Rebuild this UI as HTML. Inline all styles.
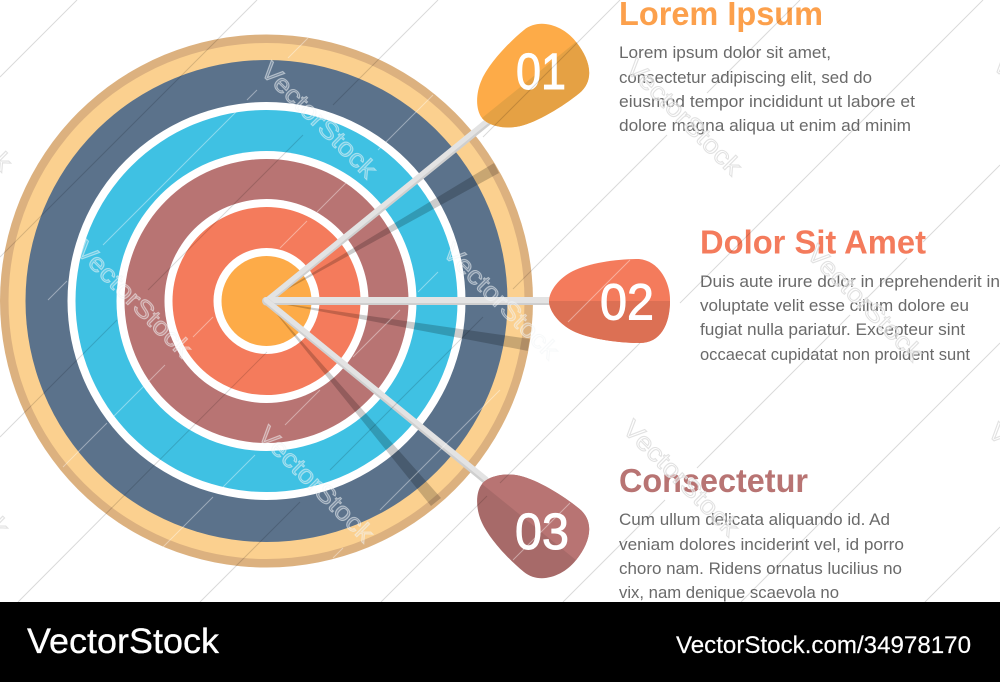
<!DOCTYPE html>
<html><head><meta charset="utf-8"><style>
html,body{margin:0;padding:0;background:#fff;width:1000px;height:682px;overflow:hidden}
svg{display:block}
text{font-family:"Liberation Sans",sans-serif}
.h{font-weight:bold;font-size:33px}
.b{font-size:16.5px;fill:#6a6a6a}
.n{font-size:51px;fill:#fff;stroke:#fff;stroke-width:1}
.w{font-size:25px;fill:#fff;fill-opacity:.18;stroke:#f0f4f6;stroke-opacity:.55;stroke-width:1}
.x{font-size:25px;fill:#fff;fill-opacity:.45;stroke:#dcdcdc;stroke-opacity:.85;stroke-width:1}
</style></head><body>
<svg width="1000" height="682" viewBox="0 0 1000 682" xmlns="http://www.w3.org/2000/svg">
<defs>
<clipPath id="c"><circle cx="266.5" cy="301" r="266"/></clipPath>
</defs>
<rect width="1000" height="682" fill="#fff"/>
<circle cx="266.5" cy="301" r="266.5" fill="#dcb17f"/>
<circle cx="266.5" cy="301" r="258" fill="#fbd08f"/>
<circle cx="266.5" cy="301" r="241" fill="#5b728b"/>
<circle cx="266.5" cy="301" r="199" fill="#fff"/>
<circle cx="266.5" cy="301" r="191" fill="#3fc1e3"/>
<circle cx="266.5" cy="301" r="150" fill="#fff"/>
<circle cx="266.5" cy="301" r="142" fill="#b87473"/>
<circle cx="266.5" cy="301" r="102" fill="#fff"/>
<circle cx="266.5" cy="301" r="94" fill="#f47b5c"/>
<circle cx="266.5" cy="301" r="53" fill="#fff"/>
<circle cx="266.5" cy="301" r="45" fill="#fdab48"/>
<g clip-path="url(#c)" fill="#000" fill-opacity=".2">
<polygon points="266,301 494,163 499,173"/>
<polygon points="266,301 530,339 528,351"/>
<polygon points="266,301 441,498 431,506"/>
</g>
<g stroke-linecap="round" fill="none">
<path d="M266,302L488,122" stroke="#cfcfcf" stroke-width="7"/>
<path d="M266,301L487,121" stroke="#e3e3e3" stroke-width="5"/>
<path d="M266,301L552,301" stroke="#cfcfcf" stroke-width="8"/>
<path d="M266,300L552,300" stroke="#e3e3e3" stroke-width="6"/>
<path d="M266,301L485,480" stroke="#cfcfcf" stroke-width="7"/>
<path d="M266,300L486,479" stroke="#e3e3e3" stroke-width="5"/>
</g>
<g transform="translate(482,118) rotate(-39)">
<path d="M0,0C0,-10 10,-23 24,-30C40,-38 68,-42 88,-42C108,-42 121,-21 121,-1C121,24 111,42 91,42C70,42 40,38 24,30C10,23 0,10 0,0Z" fill="#fdab48"/>
<path d="M0,0L121,0C121,24 111,42 91,42C70,42 40,38 24,30C10,23 0,10 0,0Z" fill="#e5a144"/>
</g>
<g transform="translate(549,301)">
<path d="M0,0C0,-10 10,-23 24,-30C40,-38 68,-42 88,-42C108,-42 121,-21 121,-1C121,24 111,42 91,42C70,42 40,38 24,30C10,23 0,10 0,0Z" fill="#f47b5c"/>
<path d="M0,0L121,0C121,24 111,42 91,42C70,42 40,38 24,30C10,23 0,10 0,0Z" fill="#dc7054"/>
</g>
<g transform="translate(482,484) rotate(39) scale(1,-1)">
<path d="M0,0C0,-10 10,-23 24,-30C40,-38 68,-42 88,-42C108,-42 121,-21 121,-1C121,24 111,42 91,42C70,42 40,38 24,30C10,23 0,10 0,0Z" fill="#a76a69"/>
<path d="M0,0L121,0C121,24 111,42 91,42C70,42 40,38 24,30C10,23 0,10 0,0Z" fill="#b87473"/>
</g>
<text class="n" x="516" y="89" textLength="50" lengthAdjust="spacingAndGlyphs">01</text>
<text class="n" x="600" y="319.5" textLength="54" lengthAdjust="spacingAndGlyphs">02</text>
<text class="n" x="515" y="549" textLength="54" lengthAdjust="spacingAndGlyphs">03</text>
<text class="h" x="619" y="25" fill="#fca04c" textLength="204" lengthAdjust="spacingAndGlyphs">Lorem Ipsum</text>
<text class="b" x="619" y="58" textLength="212" lengthAdjust="spacingAndGlyphs">Lorem ipsum dolor sit amet,</text>
<text class="b" x="619" y="83" textLength="253" lengthAdjust="spacingAndGlyphs">consectetur adipiscing elit, sed do</text>
<text class="b" x="619" y="107" textLength="296" lengthAdjust="spacingAndGlyphs">eiusmod tempor incididunt ut labore et</text>
<text class="b" x="619" y="131" textLength="292" lengthAdjust="spacingAndGlyphs">dolore magna aliqua ut enim ad minim</text>
<text class="h" x="700" y="253.5" fill="#f47b5c" textLength="226" lengthAdjust="spacingAndGlyphs">Dolor Sit Amet</text>
<text class="b" x="700" y="287" textLength="300" lengthAdjust="spacingAndGlyphs">Duis aute irure dolor in reprehenderit in</text>
<text class="b" x="700" y="311" textLength="269" lengthAdjust="spacingAndGlyphs">voluptate velit esse cillum dolore eu</text>
<text class="b" x="700" y="335" textLength="265" lengthAdjust="spacingAndGlyphs">fugiat nulla pariatur. Excepteur sint</text>
<text class="b" x="700" y="360" textLength="270" lengthAdjust="spacingAndGlyphs">occaecat cupidatat non proident sunt</text>
<text class="h" x="619" y="492" fill="#b87473" textLength="189" lengthAdjust="spacingAndGlyphs">Consectetur</text>
<text class="b" x="619" y="525" textLength="271" lengthAdjust="spacingAndGlyphs">Cum ullum delicata aliquando id. Ad</text>
<text class="b" x="619" y="550" textLength="285" lengthAdjust="spacingAndGlyphs">veniam dolores inciderint vel, id porro</text>
<text class="b" x="619" y="574" textLength="283" lengthAdjust="spacingAndGlyphs">choro nam. Ridens ornatus lucilius no</text>
<text class="b" x="619" y="598" textLength="220" lengthAdjust="spacingAndGlyphs">vix, nam denique scaevola no</text>
<g stroke="#000" stroke-opacity=".15" stroke-width="1" fill="none">
<path d="M77,0L0,77M257,0L0,257M438,0L333,105M303,135L148,290M117,320L0,437M620,0L483,137M267,352L18,602M800,0L707,93M667,135L513,289M483,317L330,470M300,502L200,602M983,0L680,303M640,343L500,483M487,496L381,602M1000,165L923,242M907,258L863,302M850,315L697,468M665,500L563,602M1000,343L741,602M1000,527L925,602"/>
</g>
<g stroke="#fff" stroke-opacity=".4" stroke-width="1" fill="none">
<path d="M308,38L288,58M257,90L247,100M237,111L103,245M67,281L48,300M433,95L378,150M347,182L317,212M307,221L280,248M213,317L193,337M165,365L113,417M107,423L63,467M438,272L418,292M400,310L353,357M320,390L285,425M255,455L223,487M213,497L163,547M630,260L568,322M500,390L380,510M343,548L333,558M570,503L513,560"/>
</g>
<text class="w" transform="translate(313,126) rotate(45)" text-anchor="middle" textLength="152" lengthAdjust="spacingAndGlyphs">VectorStock</text>
<text class="w" transform="translate(128,305) rotate(45)" text-anchor="middle" textLength="152" lengthAdjust="spacingAndGlyphs">VectorStock</text>
<text class="w" transform="translate(310,490) rotate(45)" text-anchor="middle" textLength="152" lengthAdjust="spacingAndGlyphs">VectorStock</text>
<text class="w" transform="translate(495,307) rotate(45)" text-anchor="middle" textLength="152" lengthAdjust="spacingAndGlyphs">VectorStock</text>
<text class="x" transform="translate(678,123) rotate(45)" text-anchor="middle" textLength="152" lengthAdjust="spacingAndGlyphs">VectorStock</text>
<text class="x" transform="translate(859,309) rotate(45)" text-anchor="middle" textLength="152" lengthAdjust="spacingAndGlyphs">VectorStock</text>
<text class="x" transform="translate(675,484) rotate(45)" text-anchor="middle" textLength="152" lengthAdjust="spacingAndGlyphs">VectorStock</text>
<text class="x" transform="translate(-52,119) rotate(45)" text-anchor="middle" textLength="152" lengthAdjust="spacingAndGlyphs">VectorStock</text>
<text class="x" transform="translate(-55,484) rotate(45)" text-anchor="middle" textLength="152" lengthAdjust="spacingAndGlyphs">VectorStock</text>
<text class="x" transform="translate(1045,120) rotate(45)" text-anchor="middle" textLength="152" lengthAdjust="spacingAndGlyphs">VectorStock</text>
<text class="x" transform="translate(1040,487) rotate(45)" text-anchor="middle" textLength="152" lengthAdjust="spacingAndGlyphs">VectorStock</text>
<rect x="0" y="602" width="1000" height="80" fill="#000"/>
<text x="27" y="653" font-size="35" fill="#fff" stroke="#fff" stroke-width=".3" textLength="192" lengthAdjust="spacingAndGlyphs">VectorStock</text>
<text x="676" y="653" font-size="24" fill="#fff" stroke="#fff" stroke-width=".2" textLength="295" lengthAdjust="spacingAndGlyphs">VectorStock.com/34978170</text>
</svg>
</body></html>
